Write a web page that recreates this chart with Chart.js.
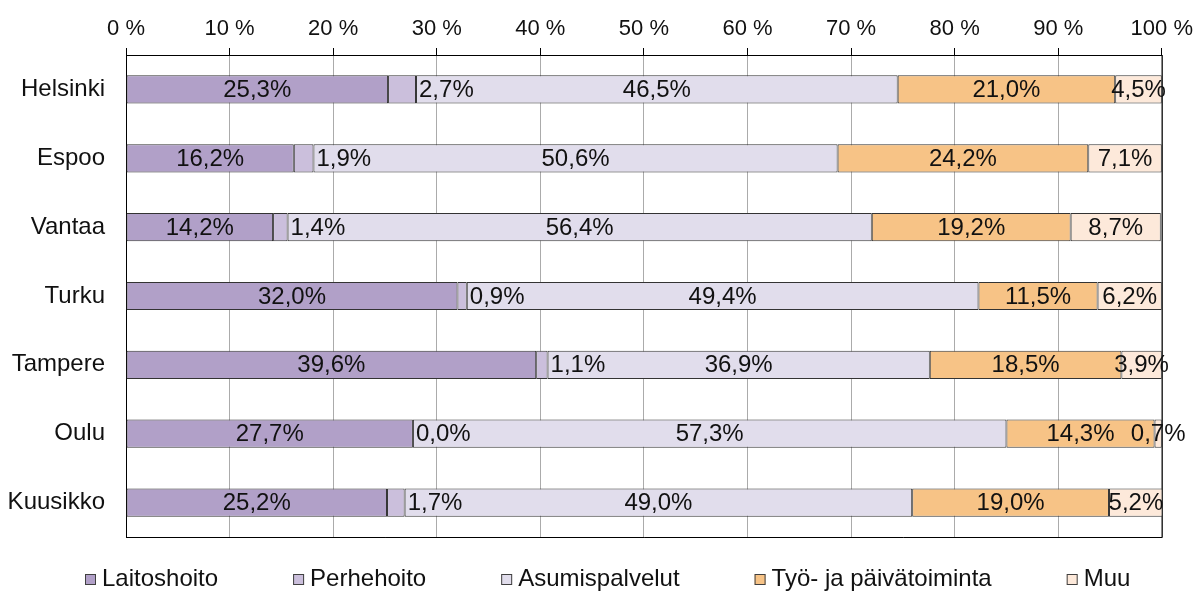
<!DOCTYPE html>
<html>
<head>
<meta charset="utf-8">
<script src="https://cdn.jsdelivr.net/npm/chart.js"></script>
<style>
  body { margin: 0; background: #fff; }
  #wrap { width: 1199px; height: 593px; position: relative; }
</style>
</head>
<body>
<div id="wrap"><canvas id="grafico"></canvas></div>
<script>
const kaupungit = ['Helsinki', 'Espoo', 'Vantaa', 'Turku', 'Tampere', 'Oulu', 'Kuusikko']
const laitoshoito = [25.3, 16.2, 14.2, 32.0, 39.6, 27.7, 25.2]
const perhehoito = [2.7, 1.9, 1.4, 0.9, 1.1, 0.0, 1.7]
const asumispalvelut = [46.5, 50.6, 56.4, 49.4, 36.9, 57.3, 49.0]
const tyoJaPaiva = [21.0, 24.2, 19.2, 11.5, 18.5, 14.3, 19.0]
const muu = [4.5, 7.1, 8.7, 6.2, 3.9, 0.7, 5.2]
const sarjat = ['Laitoshoito', 'Perhehoito', 'Asumispalvelut', 'Työ- ja päivätoiminta', 'Muu']
const xTicks = [0, 10, 20, 30, 40, 50, 60, 70, 80, 90, 100]

const varit = ['#b1a0c8', '#cbbfdc', '#e1ddec', '#f7c386', '#fde9da']
const fontti = '"Liberation Sans", Arial, sans-serif'
const tekstiVari = '#111'

const fmt = v => v.toFixed(1).replace('.', ',') + '%'

// frame round the plot + value labels
const tarrat = {
  id: 'tarrat',
  afterDatasetsDraw(chart) {
    const ctx = chart.ctx
    const a = chart.chartArea
    ctx.save()
    ctx.strokeStyle = '#000'
    ctx.lineWidth = 1
    ctx.beginPath()
    ctx.moveTo(a.right + 0.5, a.top)
    ctx.lineTo(a.right + 0.5, a.bottom + 0.5)
    ctx.lineTo(a.left, a.bottom + 0.5)
    ctx.stroke()

    ctx.font = '24px ' + fontti
    ctx.fillStyle = tekstiVari
    ctx.textBaseline = 'middle'
    chart.data.datasets.forEach((ds, i) => {
      const meta = chart.getDatasetMeta(i)
      meta.data.forEach((bar, j) => {
        const p = bar.getProps(['x', 'base', 'y'], true)
        const teksti = fmt(ds.data[j])
        if (i === 1) {
          ctx.textAlign = 'left'
          ctx.fillText(teksti, Math.max(p.x, p.base) + 3, p.y + 1)
        } else {
          ctx.textAlign = 'center'
          ctx.fillText(teksti, (p.x + p.base) / 2, p.y + 1)
        }
      })
    })
    ctx.restore()
  }
}

// legend drawn at the bottom like the original
const selite = {
  id: 'selite',
  afterDraw(chart) {
    const ctx = chart.ctx
    ctx.save()
    ctx.font = '24px ' + fontti
    ctx.textBaseline = 'middle'
    ctx.textAlign = 'left'
    let x = 85
    const yc = 579
    chart.data.datasets.forEach((ds, i) => {
      ctx.fillStyle = ds.backgroundColor
      ctx.fillRect(x, yc - 5, 11, 11)
      ctx.strokeStyle = '#404040'
      ctx.lineWidth = 1
      ctx.strokeRect(x + 0.5, yc - 4.5, 10, 10)
      ctx.fillStyle = tekstiVari
      const tx = x + 17
      ctx.fillText(ds.label, tx, yc)
      x = tx + ctx.measureText(ds.label).width + 75
    })
    ctx.restore()
  }
}

const arvot = [laitoshoito, perhehoito, asumispalvelut, tyoJaPaiva, muu]

new Chart(document.getElementById('grafico'), {
  type: 'bar',
  data: {
    labels: kaupungit,
    datasets: sarjat.map((nimi, i) => ({
      label: nimi,
      data: arvot[i],
      backgroundColor: varit[i],
      borderColor: '#333',
      borderWidth: 1,
      borderSkipped: false,
      barPercentage: 0.41,
      categoryPercentage: 1
    }))
  },
  options: {
    indexAxis: 'y',
    responsive: true,
    maintainAspectRatio: false,
    animation: false,
    layout: { padding: { left: 0, right: 37, top: 0, bottom: 56 } },
    plugins: {
      legend: { display: false },
      tooltip: { enabled: false }
    },
    scales: {
      x: {
        position: 'top',
        stacked: true,
        min: 0,
        max: 100,
        afterBuildTicks: s => { s.ticks = xTicks.map(v => ({ value: v })) },
        afterFit: s => { s.height = 55 },
        ticks: {
          callback: v => v + ' %',
          font: { size: 22, family: fontti },
          color: tekstiVari,
          padding: 6,
          maxRotation: 0
        },
        grid: {
          color: '#ababab',
          tickColor: '#000',
          tickLength: 7
        },
        border: { color: '#000', width: 1 }
      },
      y: {
        stacked: true,
        afterFit: s => { s.width = 126 },
        grid: { display: false },
        border: { color: '#000', width: 1 },
        ticks: {
          font: { size: 24, family: fontti },
          color: tekstiVari,
          padding: 13
        }
      }
    }
  },
  plugins: [tarrat, selite]
})
</script>
</body>
</html>
